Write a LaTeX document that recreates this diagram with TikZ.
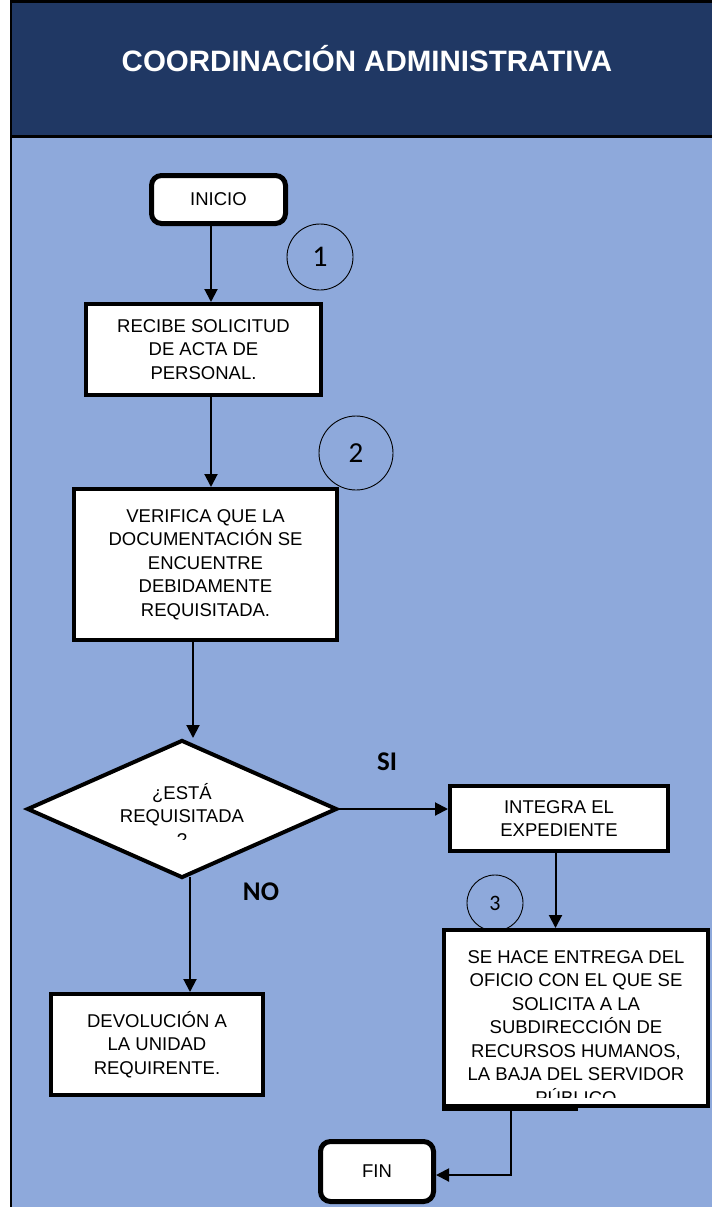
\documentclass[tikz,border=0pt]{standalone}
\usepackage{fontspec}
\setmainfont{Liberation Sans}
\newfontfamily\calib{Carlito}
\usetikzlibrary{shapes.geometric,arrows.meta,calc}
\definecolor{navy}{HTML}{203864}
\definecolor{lblue}{HTML}{8EA9DB}
\begin{document}
\begin{tikzpicture}[x=1pt,y=-1pt,
  txt/.style={inner sep=0pt, align=center, font=\fontsize{18.5}{23.5}\selectfont},
  box/.style={draw, line width=4pt, fill=white, txt},
  term/.style={box, rounded corners=10pt, line width=5pt},
  circ/.style={circle, draw, line width=0.9pt, inner sep=0pt},
  arr/.style={line width=2pt, -{Triangle[length=13pt,width=13pt]}},
  lbl/.style={font=\calib\bfseries\fontsize{27}{30}\selectfont},
  title/.style={text=white, font=\bfseries\fontsize{29.5}{32}\selectfont, anchor=base}]
\useasboundingbox (0,0) rectangle (712,1207);
\fill[white] (0,0) rectangle (712,1207);
\fill[navy] (11,1) rectangle (712,136);
\fill[lblue] (11,136) rectangle (712,1207);
\draw[line width=2.5pt] (11,1207) -- (11,1.5) -- (712,1.5);
\draw[line width=3pt] (11,136) -- (712,136);
\node[title] (title) at (367,71.5) {COORDINACIÓN ADMINISTRATIVA};

% step circles
\node[circ, minimum size=66pt, font=\calib\fontsize{30}{32}\selectfont] (c1) at (320,257) {1};
\node[circ, minimum size=74pt, font=\calib\fontsize{29}{32}\selectfont] (c2) at (356,453) {2};
\node[circ, minimum size=56pt, font=\calib\fontsize{22}{24}\selectfont] (c3) at (495,903) {3};

% nodes
\node[term, minimum width=134pt, minimum height=48pt] (inicio) at (218.5,199.5) {INICIO};
\node[box, minimum width=235pt, minimum height=91pt] (recibe) at (203.5,349.5) {RECIBE SOLICITUD\\DE ACTA DE\\PERSONAL.};
\node[box, minimum width=263pt, minimum height=151pt] (verifica) at (205.5,564.5) {VERIFICA QUE LA\\DOCUMENTACIÓN SE\\ENCUENTRE\\DEBIDAMENTE\\REQUISITADA.};
\node[diamond, draw, line width=4pt, fill=white, inner sep=0pt, minimum width=310pt, minimum height=138pt,
  path picture={
    \clip ([yshift=-30pt]path picture bounding box.west) rectangle (path picture bounding box.north east);
    \node[txt] (qtxt) at ([yshift=-5.75pt]path picture bounding box.center) {¿ESTÁ\\REQUISITADA\\?};
  }] (q) at (182,809) {};
\node[box, minimum width=218pt, minimum height=65pt] (integra) at (559,818.5) {INTEGRA EL\\EXPEDIENTE};
\node[box, minimum width=264pt, minimum height=176pt,
  path picture={
    \clip ([yshift=9pt]path picture bounding box.south west) rectangle (path picture bounding box.north east);
    \node[txt, anchor=north] (entregatxt) at ([yshift=-7.5pt]path picture bounding box.north) {SE HACE ENTREGA DEL\\OFICIO CON EL QUE SE\\SOLICITA A LA\\SUBDIRECCIÓN DE\\RECURSOS HUMANOS,\\LA BAJA DEL SERVIDOR\\PÚBLICO};
  }] (entrega) at (576,1018) {};
\fill (442,1106) rectangle (578,1111);
\node[box, minimum width=212pt, minimum height=101pt] (devol) at (157,1044.5) {DEVOLUCIÓN A\\LA UNIDAD\\REQUIRENTE.};
\node[term, minimum width=113pt, minimum height=60pt] (fin) at (377,1171.5) {FIN};

% labels
\node[lbl] (si) at (387,762) {SI};
\node[lbl] (no) at (261,892) {NO};

% connectors
\draw[arr] ([xshift=-7.5pt]inicio.south) -- ([xshift=-7.5pt]inicio.south |- recibe.north);
\draw[arr] ([xshift=7.5pt]recibe.south) -- ([xshift=7.5pt]recibe.south |- verifica.north);
\draw[arr] ([xshift=-12.5pt]verifica.south) -- ([xshift=-12.5pt]verifica.south |- q.north);
\draw[arr] (q.east) -- (q.east -| integra.west);
\draw[arr] ([xshift=-3.5pt]integra.south) -- ([xshift=-3.5pt]integra.south |- entrega.north);
\draw[arr] ([xshift=8pt,yshift=3pt]q.south) -- ([xshift=8pt]q.south |- devol.north);
\draw[arr] ([xshift=-65pt]entrega.south) |- ([yshift=-3.5pt]fin.east);
\end{tikzpicture}
\end{document}
